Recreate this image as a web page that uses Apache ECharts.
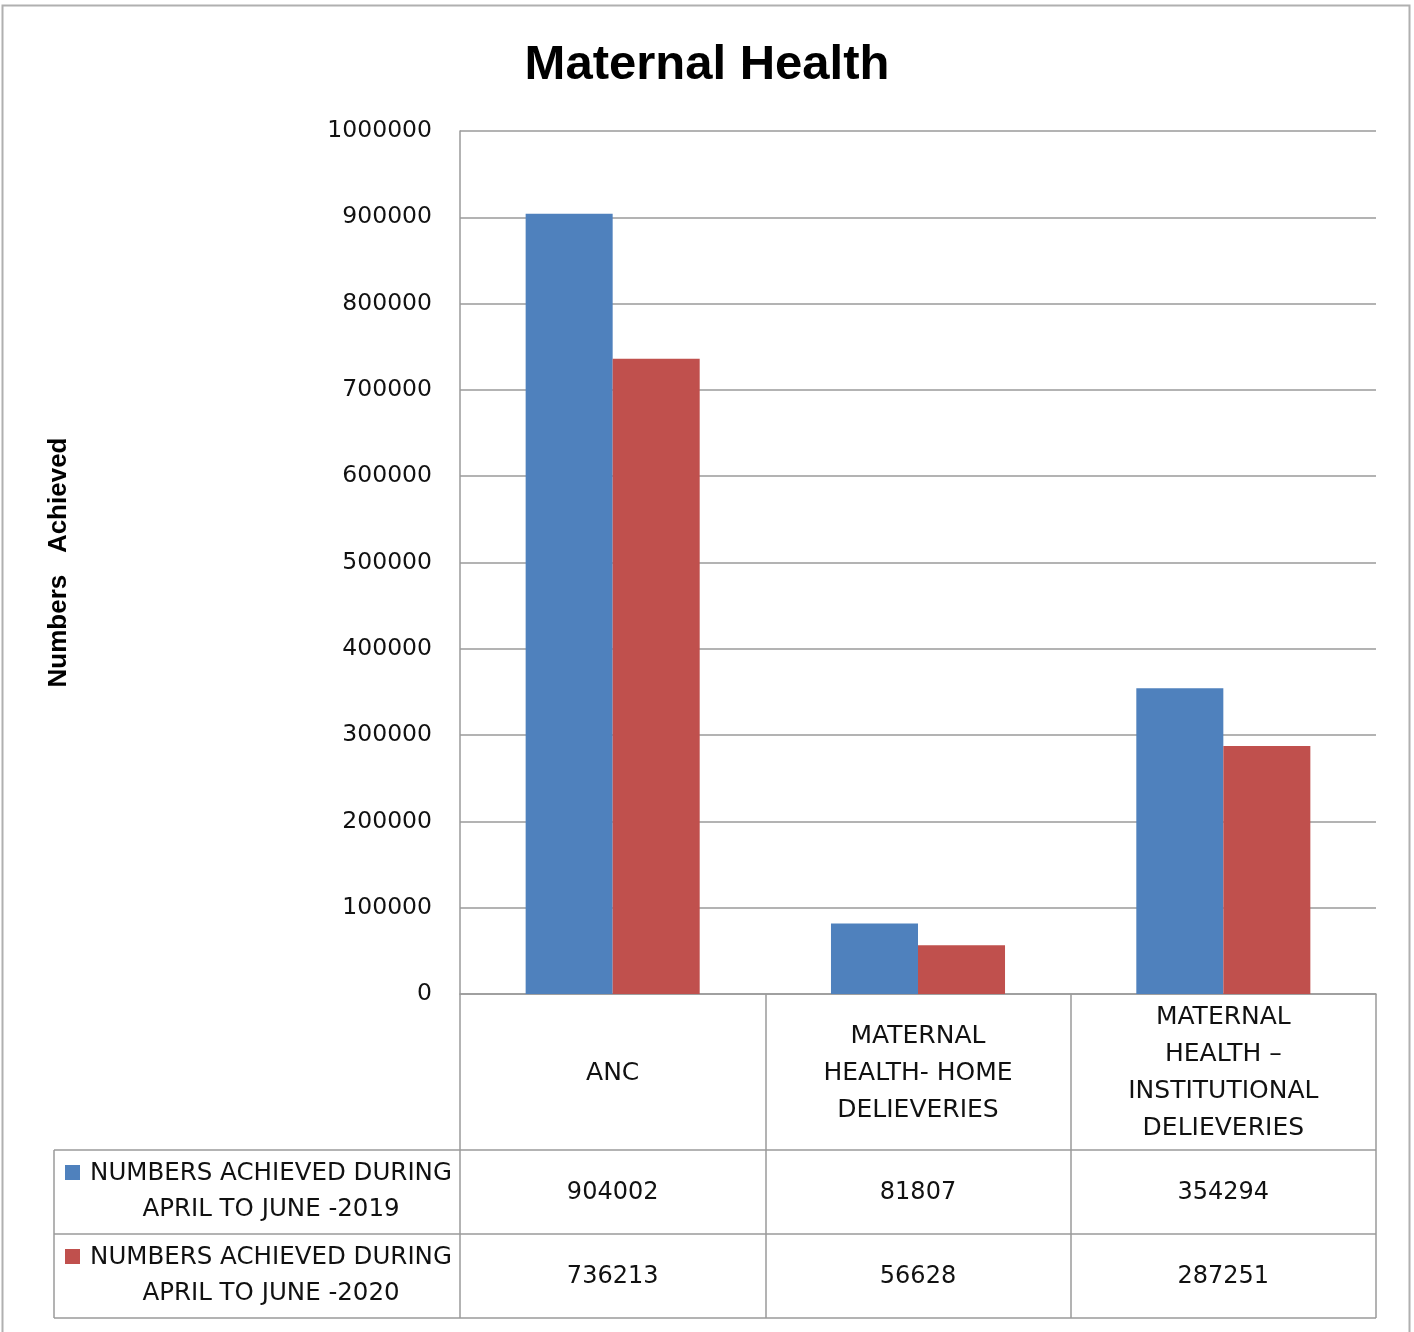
<!DOCTYPE html>
<html><head><meta charset="utf-8">
<script src="https://cdn.jsdelivr.net/npm/echarts@6/dist/echarts.min.js"></script>
<style>html,body{margin:0;padding:0;background:#fff}#c{width:1414px;height:1332px}</style>
</head><body><div id="c"></div>
<script>
const titleText = 'Maternal Health';
const yAxisName = 'Numbers   Achieved';
const categories = ['ANC', 'MATERNAL\nHEALTH- HOME\nDELIEVERIES', 'MATERNAL\nHEALTH \u2013\nINSTITUTIONAL\nDELIEVERIES'];
const seriesNames = ['NUMBERS ACHIEVED DURING\nAPRIL TO JUNE -2019', 'NUMBERS ACHIEVED DURING\nAPRIL TO JUNE -2020'];
const values2019 = [904002, 81807, 354294];
const values2020 = [736213, 56628, 287251];
const yTicks = [0, 100000, 200000, 300000, 400000, 500000, 600000, 700000, 800000, 900000, 1000000];
const colors = ['#4F81BD', '#C0504D'];

const FONT = 'DejaVu Sans';
const GRID = {left: 460, right: 38, top: 131, bottom: 338};
const LINE = '#9a9a9a';

const chart = echarts.init(document.getElementById('c'), null, {renderer: 'canvas'});
const option = {
  animation: false,
  backgroundColor: '#fff',
  title: {text: titleText, left: 'center', top: 36,
    textStyle: {fontFamily: 'Liberation Sans', fontWeight: 'bold', fontSize: 49, color: '#000'}},
  grid: GRID,
  xAxis: {type: 'category', data: categories,
    axisLine: {show: true, lineStyle: {color: LINE, width: 1.5}},
    axisTick: {show: true, length: 324, lineStyle: {color: LINE, width: 1.5}},
    axisLabel: {show: true, interval: 0, margin: 79, verticalAlign: 'middle', lineHeight: 37,
      fontFamily: FONT, fontSize: 25, color: '#111', align: 'center'},
    splitLine: {show: false}},
  yAxis: {type: 'value', min: yTicks[0], max: yTicks[yTicks.length - 1], interval: 100000,
    name: yAxisName, nameLocation: 'middle', nameRotate: 90, nameGap: 388,
    nameTextStyle: {fontFamily: 'Liberation Sans', fontWeight: 'bold', fontSize: 26, color: '#000'},
    axisLine: {show: true, lineStyle: {color: LINE, width: 1.5}},
    axisTick: {show: false},
    axisLabel: {margin: 28, fontFamily: FONT, fontSize: 23.5, color: '#111', formatter: v => String(v)},
    splitLine: {show: true, lineStyle: {color: LINE, width: 1.5}}},
  series: [
    {name: seriesNames[0], type: 'bar', data: values2019, itemStyle: {color: colors[0]},
      barGap: '0%', barCategoryGap: '43%'},
    {name: seriesNames[1], type: 'bar', data: values2020, itemStyle: {color: colors[1]},
      barGap: '0%', barCategoryGap: '43%'}
  ]
};
chart.setOption(option);

// data table below the plot
const W = 1414, H = 1332;
const xL = GRID.left, xR = W - GRID.right, y0 = H - GRID.bottom;
const rowTops = [y0 + 156, y0 + 240, y0 + 324];
const tableLeft = 54;
const g = [];
g.push({type: 'rect', shape: {x: 2.5, y: 5.5, width: 1407, height: 1340}, style: {fill: 'none', stroke: '#b0b0b0', lineWidth: 2}, silent: true});
rowTops.forEach(y => g.push({type: 'line', shape: {x1: tableLeft, y1: y, x2: xR, y2: y}, style: {stroke: LINE, lineWidth: 1.5}, silent: true}));
g.push({type: 'line', shape: {x1: tableLeft, y1: rowTops[0], x2: tableLeft, y2: rowTops[2]}, style: {stroke: LINE, lineWidth: 1.5}, silent: true});
const allVals = [values2019, values2020];
allVals.forEach((vals, s) => {
  const yc = (rowTops[s] + rowTops[s + 1]) / 2;
  g.push({type: 'rect', shape: {x: 65, y: yc - 27, width: 15, height: 15}, style: {fill: colors[s]}, silent: true});
  g.push({type: 'text', x: 271, y: yc, style: {text: seriesNames[s], fontFamily: FONT, fontSize: 24.5, lineHeight: 36,
    fill: '#111', align: 'center', verticalAlign: 'middle'}, silent: true});
  vals.forEach((v, i) => {
    const x = chart.convertToPixel({xAxisIndex: 0}, i);
    g.push({type: 'text', x: x, y: yc + 1, style: {text: String(v), fontFamily: FONT, fontSize: 24, 
      fill: '#111', align: 'center', verticalAlign: 'middle'}, silent: true});
  });
});
chart.setOption({graphic: g});
</script></body></html>
